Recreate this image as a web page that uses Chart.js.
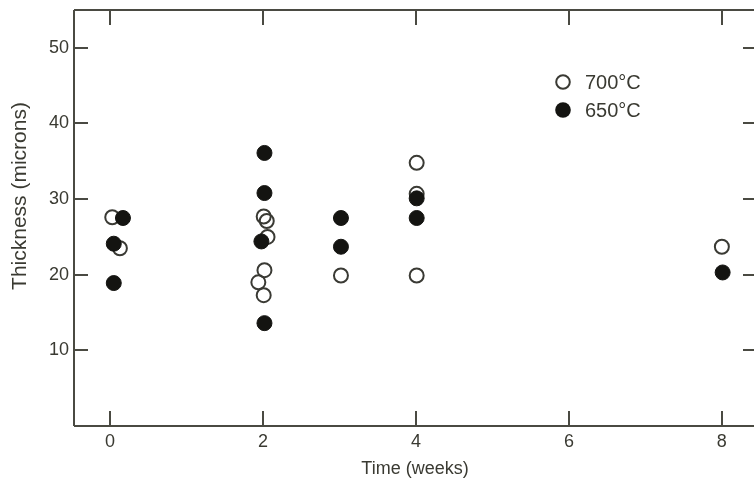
<!DOCTYPE html>
<html>
<head>
<meta charset="utf-8">
<script src="https://cdn.jsdelivr.net/npm/chart.js@4"></script>
<style>
html,body{margin:0;padding:0;background:#fff;overflow:hidden;}
#wrap{width:754px;height:480px;position:relative;}
</style>
</head>
<body>
<div id="wrap"><canvas id="c"></canvas></div>
<script>
// Data
const weeks700 = [0.03, 0.13, 2.01, 2.05, 2.06, 2.02, 1.94, 2.01, 3.02, 4.01, 4.01, 4.01, 8.0];
const thick700 = [27.6, 23.5, 27.7, 27.1, 25.0, 20.6, 19.0, 17.3, 19.9, 34.8, 30.7, 19.9, 23.7];
const weeks650 = [0.17, 0.05, 0.05, 2.02, 2.02, 1.98, 2.02, 3.02, 3.02, 4.01, 4.01, 8.01];
const thick650 = [27.5, 24.1, 18.9, 36.1, 30.8, 24.4, 13.6, 23.7, 27.5, 30.1, 27.5, 20.3];
const xTickValues = [0, 2, 4, 6, 8];
const yTickValues = [10, 20, 30, 40, 50];
const seriesLabels = ['700\u00B0C', '650\u00B0C'];
const xTitle = 'Time (weeks)';
const yTitle = 'Thickness (microns)';

const INK = '#141411';
const AXIS = '#4a4a42';
const TEXT = '#3a3a32';
const FONT = 'Liberation Sans, Arial, Helvetica, sans-serif';

const toPts = (xs, ys) => xs.map((x, i) => ({x: x, y: ys[i]}));

const framePlugin = {
  id: 'frame',
  afterDraw(chart) {
    const ctx = chart.ctx;
    const a = chart.chartArea;
    const xs = chart.scales.x, ys = chart.scales.y;
    ctx.save();
    ctx.strokeStyle = AXIS;
    ctx.lineWidth = 2;
    ctx.beginPath();
    ctx.moveTo(a.left, a.top); ctx.lineTo(a.right, a.top);
    ctx.moveTo(a.left, a.top); ctx.lineTo(a.left, a.bottom);
    ctx.moveTo(a.left, a.bottom); ctx.lineTo(a.right, a.bottom);
    xTickValues.forEach(v => {
      const px = Math.round(xs.getPixelForValue(v));
      ctx.moveTo(px, a.bottom); ctx.lineTo(px, a.bottom - 15);
      ctx.moveTo(px, a.top); ctx.lineTo(px, a.top + 15);
    });
    yTickValues.forEach(v => {
      const py = Math.round(ys.getPixelForValue(v));
      ctx.moveTo(a.left, py); ctx.lineTo(a.left + 14, py);
      ctx.moveTo(a.right, py); ctx.lineTo(a.right - 11, py);
    });
    ctx.stroke();

    // axis titles
    ctx.fillStyle = TEXT;
    ctx.textAlign = 'center';
    ctx.textBaseline = 'middle';
    ctx.font = '18px ' + FONT;
    ctx.fillText(xTitle, (a.left + a.right) / 2 + 1, 469);
    ctx.save();
    ctx.translate(20, 196);
    ctx.rotate(-Math.PI / 2);
    ctx.font = '21px ' + FONT;
    ctx.fillText(yTitle, 0, 0);
    ctx.restore();

    // legend
    const ds = chart.data.datasets;
    const items = [ds[1], ds[0]];
    const lx = 563, ly0 = 82, dy = 28;
    items.forEach((d, i) => {
      const cy = ly0 + i * dy;
      ctx.beginPath();
      if (d.backgroundColor !== 'rgba(0,0,0,0)') {
        ctx.arc(lx, cy, 7.8, 0, Math.PI * 2);
        ctx.fillStyle = d.backgroundColor; ctx.fill();
      } else {
        ctx.arc(lx, cy, 6.8, 0, Math.PI * 2);
        ctx.lineWidth = 2; ctx.strokeStyle = d.borderColor; ctx.stroke();
      }
      ctx.fillStyle = TEXT;
      ctx.font = '20px ' + FONT;
      ctx.textBaseline = 'middle';
      ctx.textAlign = 'left';
      ctx.fillText(d.label, 585, cy + 1);
    });
    ctx.restore();
  }
};

new Chart(document.getElementById('c'), {
  type: 'scatter',
  data: {
    datasets: [
      {
        label: seriesLabels[1],
        data: toPts(weeks650, thick650),
        backgroundColor: INK,
        borderColor: INK,
        borderWidth: 1,
        pointRadius: 7.5,
        order: 0
      },
      {
        label: seriesLabels[0],
        data: toPts(weeks700, thick700),
        backgroundColor: 'rgba(0,0,0,0)',
        borderColor: '#3a3a34',
        borderWidth: 2,
        pointRadius: 7,
        order: 1
      }
    ]
  },
  options: {
    responsive: true,
    maintainAspectRatio: false,
    animation: false,
    layout: {autoPadding: false, padding: {top: 10, right: 0, left: 0, bottom: 0}},
    plugins: {legend: {display: false}, tooltip: {enabled: false}},
    scales: {
      x: {
        type: 'linear',
        min: -0.47,
        max: 8.42,
        grid: {display: false, drawTicks: false},
        border: {display: false},
        afterBuildTicks: s => { s.ticks = xTickValues.map(v => ({value: v})); },
        ticks: {font: {family: FONT, size: 18}, color: TEXT, padding: 5, maxRotation: 0},
        afterFit: s => { s.height = 54; s.paddingLeft = 0; s.paddingRight = 0; }
      },
      y: {
        type: 'linear',
        min: 0,
        max: 55,
        grid: {display: false, drawTicks: false},
        border: {display: false},
        afterBuildTicks: s => { s.ticks = yTickValues.map(v => ({value: v})); },
        ticks: {font: {family: FONT, size: 18}, color: TEXT, padding: 5},
        afterFit: s => { s.width = 74; s.paddingTop = 0; s.paddingBottom = 0; }
      }
    }
  },
  plugins: [framePlugin]
});
</script>
</body>
</html>
